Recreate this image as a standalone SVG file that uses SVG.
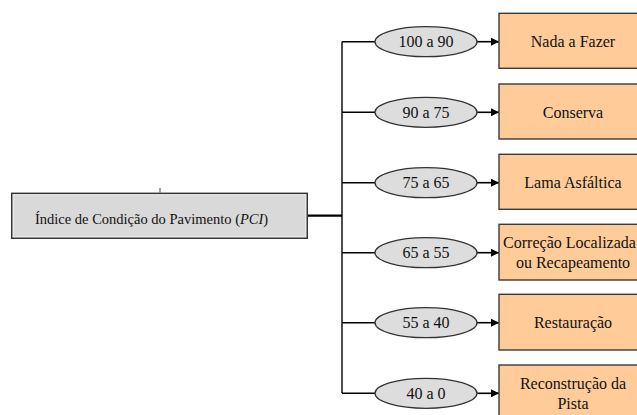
<svg xmlns="http://www.w3.org/2000/svg" width="637" height="415" viewBox="0 0 637 415">
<defs>
<style>
text{font-family:'Liberation Serif','Times New Roman',serif}
.lbl{font-size:16px;fill:#111;text-anchor:middle}
.box{fill:#FFCC99;stroke:#3a3a3a;stroke-width:1.4}
.ell{fill:#DDDDDD;stroke:#333;stroke-width:1.3}
.ln{stroke:#000;stroke-width:1.4;fill:none}
.arr{stroke:#000;stroke-width:1.6;fill:none;marker-end:url(#ah)}
</style>
<marker id="ah" markerWidth="8" markerHeight="8" refX="8" refY="4" orient="auto" markerUnits="userSpaceOnUse">
<path d="M0,0 L8,4 L0,8 Z" fill="#000"/>
</marker>
</defs>
<rect width="637" height="415" fill="#fff"/>
<g id="connectors">
<line class="ln" x1="342" y1="41.7" x2="342" y2="393.3"/>
<line x1="307.3" y1="215.7" x2="342" y2="215.7" stroke="#000" stroke-width="2.2"/>
<line x1="160" y1="188" x2="160" y2="192.5" stroke="#444" stroke-width="1"/>
<line class="ln" x1="342" y1="41.7" x2="375" y2="41.7"/>
<line class="ln" x1="342" y1="112.3" x2="375" y2="112.3"/>
<line class="ln" x1="342" y1="182.7" x2="375" y2="182.7"/>
<line class="ln" x1="342" y1="252.7" x2="375" y2="252.7"/>
<line class="ln" x1="342" y1="322.7" x2="375" y2="322.7"/>
<line class="ln" x1="342" y1="393.3" x2="375" y2="393.3"/>
<line class="arr" x1="477" y1="41.7" x2="499" y2="41.7"/>
<line class="arr" x1="477" y1="112.3" x2="499" y2="112.3"/>
<line class="arr" x1="477" y1="182.7" x2="499" y2="182.7"/>
<line class="arr" x1="477" y1="252.7" x2="499" y2="252.7"/>
<line class="arr" x1="477" y1="322.7" x2="499" y2="322.7"/>
<line class="arr" x1="477" y1="393.3" x2="499" y2="393.3"/>
</g>
<g id="pci">
<rect x="11.7" y="193.3" width="295.6" height="45" fill="#D9D9D9" stroke="#333" stroke-width="1.4"/>
<rect x="13.5" y="195.1" width="292" height="41.4" fill="none" stroke="#E6E6E6" stroke-width="1"/>
<text x="35" y="224" font-family="Liberation Serif, Times New Roman, serif" font-size="14.5" fill="#111">Índice de Condição do Pavimento (<tspan font-style="italic">PCI</tspan>)</text>
</g>
<g font-family="Liberation Serif, Times New Roman, serif">
<g id="r1"><ellipse class="ell" cx="426" cy="41.7" rx="51" ry="15"/><text class="lbl" x="426" y="47.2">100 a 90</text></g>
<g id="r2"><ellipse class="ell" cx="426" cy="112.3" rx="51" ry="15"/><text class="lbl" x="426" y="117.8">90 a 75</text></g>
<g id="r3"><ellipse class="ell" cx="426" cy="182.7" rx="51" ry="15"/><text class="lbl" x="426" y="188.2">75 a 65</text></g>
<g id="r4"><ellipse class="ell" cx="426" cy="252.7" rx="51" ry="15"/><text class="lbl" x="426" y="258.2">65 a 55</text></g>
<g id="r5"><ellipse class="ell" cx="426" cy="322.7" rx="51" ry="15"/><text class="lbl" x="426" y="328.2">55 a 40</text></g>
<g id="r6"><ellipse class="ell" cx="426" cy="393.3" rx="51" ry="15"/><text class="lbl" x="426" y="398.8">40 a 0</text></g>
<g id="a1"><rect class="box" x="499" y="13.3" width="146" height="55"/><text class="lbl" x="573" y="47.2">Nada a Fazer</text></g>
<g id="a2"><rect class="box" x="499" y="84" width="146" height="55"/><text class="lbl" x="573" y="117.8">Conserva</text></g>
<g id="a3"><rect class="box" x="499" y="154.3" width="146" height="55"/><text class="lbl" x="573" y="188.2">Lama Asfáltica</text></g>
<g id="a4"><rect class="box" x="499" y="224.3" width="146" height="55.7"/><text class="lbl" x="569.5" y="248">Correção Localizada</text><text class="lbl" x="573" y="267.5">ou Recapeamento</text></g>
<g id="a5"><rect class="box" x="499" y="294.3" width="146" height="55.7"/><text class="lbl" x="573" y="328.2">Restauração</text></g>
<g id="a6"><rect class="box" x="499" y="365" width="146" height="55"/><text class="lbl" x="573" y="389.3">Reconstrução da</text><text class="lbl" x="573" y="408.5">Pista</text></g>
</g>
</svg>
